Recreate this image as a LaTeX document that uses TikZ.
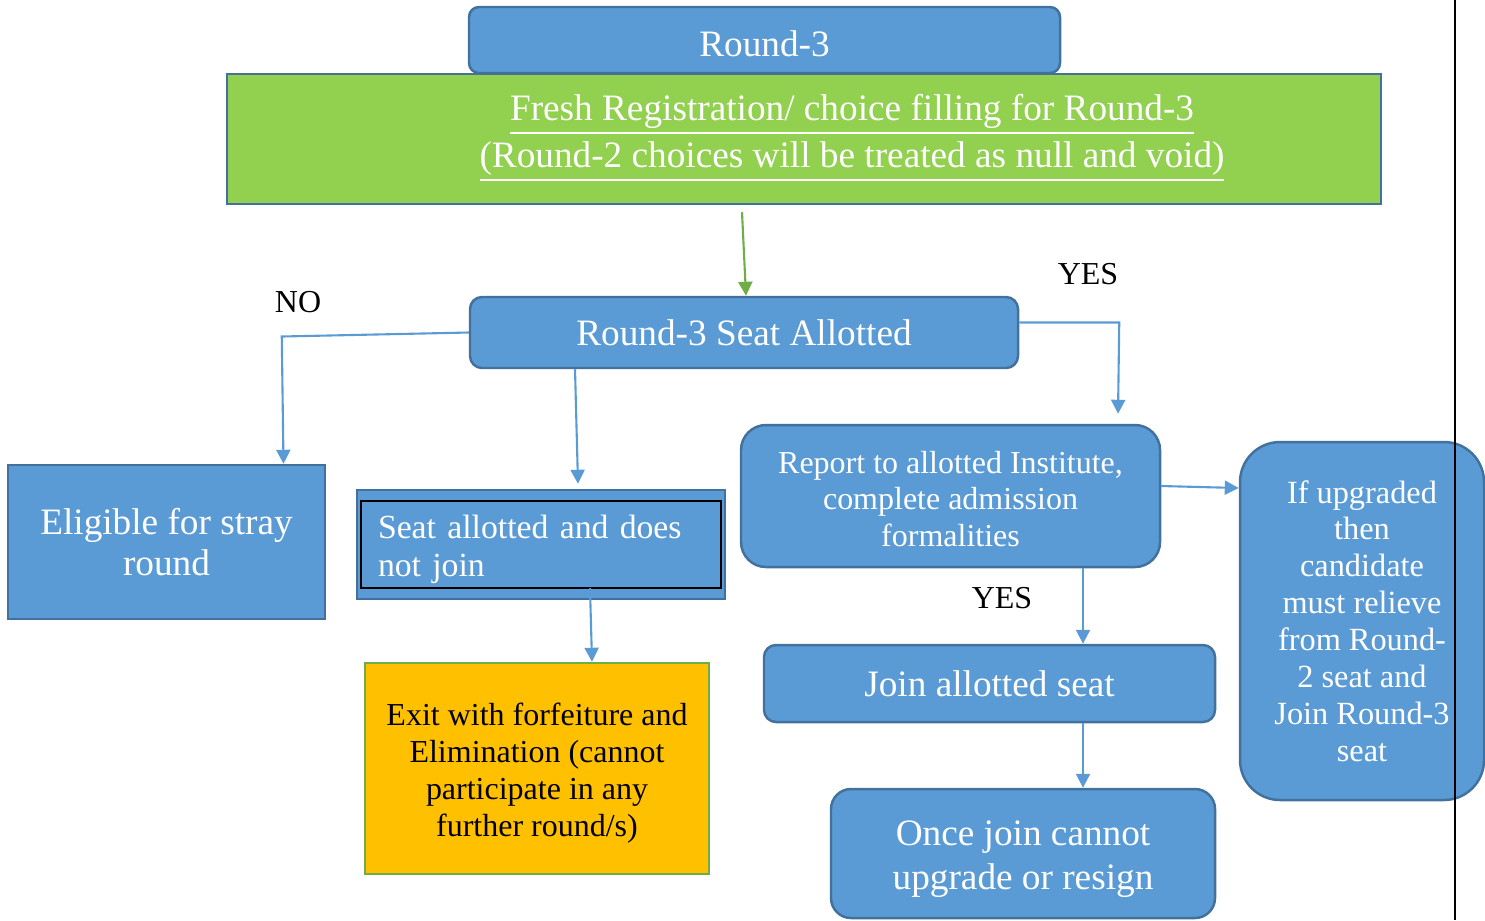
\documentclass[tikz,border=0pt]{standalone}
\usepackage{fontspec}
\setmainfont{Liberation Serif}
\usetikzlibrary{arrows.meta}
\definecolor{boxblue}{HTML}{5B9BD5}
\definecolor{boxedge}{HTML}{41719C}
\definecolor{freshgreen}{HTML}{92D050}
\definecolor{linegreen}{HTML}{70AD47}
\definecolor{exitorange}{HTML}{FFC000}

\begin{document}
\begin{tikzpicture}[font=\fontsize{9.1}{10.5}\selectfont, inner sep=0pt,
  bluebox/.style={draw=boxedge, fill=boxblue, text=white, line width=0.7pt, align=center},
  link/.style={boxblue, line width=0.6pt, -{Triangle[length=0.14cm,width=0.14cm]}},
  big/.style={font=\fontsize{10.6}{12}\selectfont}]
  \useasboundingbox (0,0) rectangle (14.85,-9.2);
  \node[bluebox, big, rounded corners=0.1cm, minimum width=5.91cm, minimum height=0.66cm, text height=0.335cm] (round) at (7.645,-0.40) {Round-3};
  \node[draw=boxedge, fill=freshgreen, line width=0.7pt, minimum width=11.54cm, minimum height=1.30cm] (fresh) at (8.04,-1.39) {};
  \node[text=white, align=center, font=\fontsize{10.6}{13.4}\selectfont] (freshtext) at ([xshift=0.48cm,yshift=0.01cm]fresh.center)
    {\underline{Fresh Registration/ choice filling for Round-3}\\\underline{(Round-2 choices will be treated as null and void)}};
  \node[bluebox, big, rounded corners=0.12cm, minimum width=5.48cm, minimum height=0.71cm] (allot) at (7.44,-3.325) {Round-3 Seat Allotted};
  \node[bluebox, big, minimum width=3.17cm, minimum height=1.54cm, font=\fontsize{10.6}{11.9}\selectfont] (stray) at (1.665,-5.42) {Eligible for stray\\round};
  \node[bluebox, minimum width=3.68cm, minimum height=1.09cm, align=left, text width=3.26cm, font=\fontsize{9.6}{11}\selectfont, text height=0.33cm] (nojoin) at (5.41,-5.445) {Seat allotted and does\\not join};
  \draw[black, line width=0.7pt] ([shift={(0.05cm,-0.12cm)}]nojoin.north west) rectangle ([shift={(-0.05cm,0.12cm)}]nojoin.south east);
  \node[draw=linegreen, fill=exitorange, line width=0.7pt, align=center, minimum width=3.44cm, minimum height=2.11cm, text height=1.42cm] (exit) at (5.37,-7.685)
    {Exit with forfeiture and\\Elimination (cannot\\participate in any\\further round/s)};
  \node[bluebox, rounded corners=0.25cm, minimum width=4.19cm, minimum height=1.42cm, text height=1.02cm] (report) at (9.505,-4.96)
    {Report to allotted Institute,\\complete admission\\formalities};
  \node[bluebox, rounded corners=0.4cm, minimum width=2.44cm, minimum height=3.58cm, font=\fontsize{9.2}{10.5}\selectfont] (upgrade) at (13.62,-6.21)
    {If upgraded\\then\\candidate\\must relieve\\from Round-\\2 seat and\\Join Round-3\\seat};
  \node[bluebox, big, rounded corners=0.12cm, minimum width=4.51cm, minimum height=0.77cm] (join) at (9.895,-6.835) {Join allotted seat};
  \node[bluebox, big, rounded corners=0.2cm, minimum width=3.84cm, minimum height=1.29cm, font=\fontsize{10.6}{12.4}\selectfont, text height=0.795cm] (once) at (10.23,-8.535) {Once join cannot\\upgrade or resign};
  \node (no) at (2.98,-3.02) {NO};
  \node (yes) at (10.88,-2.74) {YES};
  \node (yesb) at (10.02,-5.98) {YES};
  \draw[black, line width=0.6pt] (14.55,0) -- (14.55,-9.2);
  \draw[linegreen, line width=0.6pt, -{Triangle[length=0.14cm,width=0.14cm]}] ([xshift=-0.62cm,yshift=-0.07cm]fresh.south) -- ([xshift=0.02cm]allot.north);
  \draw[link] (allot.west) -- ([xshift=-1.87cm,yshift=-0.04cm]allot.west) -- ([xshift=1.17cm]stray.north);
  \draw[link] ([yshift=0.1cm]allot.east) -- ([xshift=1cm,yshift=0.1cm]allot.east) -- ([xshift=1.675cm,yshift=0.1cm]report.north);
  \draw[link] ([xshift=-1.69cm]allot.south) -- ([xshift=0.37cm,yshift=0.05cm]nojoin.north);
  \draw[link] ([xshift=0.49cm,yshift=0.12cm]nojoin.south) -- ([xshift=0.55cm]exit.north);
  \draw[link] ([yshift=0.1cm]report.east) -- ([yshift=1.33cm]upgrade.west);
  \draw[link] ([xshift=1.325cm]report.south) -- ([xshift=0.935cm]join.north);
  \draw[link] ([xshift=0.935cm]join.south) -- ([xshift=0.6cm]once.north);
\end{tikzpicture}
\end{document}
